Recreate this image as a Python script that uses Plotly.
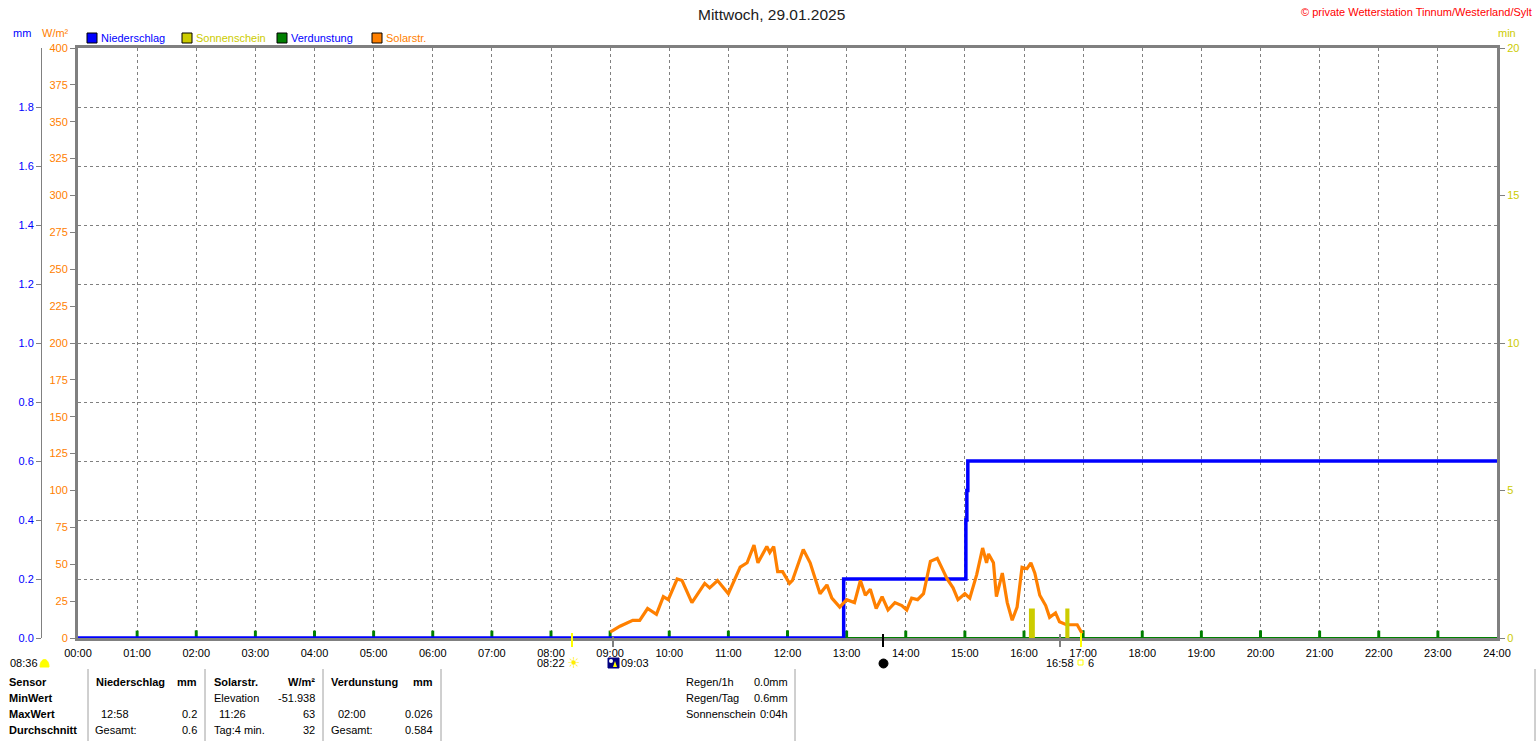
import plotly.graph_objects as go

W, H = 1536, 741
FONT = "Liberation Sans, Arial, sans-serif"

# ---------------- data ----------------
hour_labels = ["%02d:00" % h for h in range(25)]

solar_times = ["09:00", "09:10", "09:23", "09:30", "09:38", "09:47", "09:54", "09:59",
               "10:08", "10:13", "10:23", "10:36", "10:41", "10:49", "11:00", "11:12",
               "11:19", "11:26", "11:30", "11:39", "11:42", "11:46", "11:50", "11:55",
               "12:02", "12:05", "12:16", "12:23", "12:33", "12:40", "12:45", "12:53",
               "13:00", "13:08", "13:14", "13:19", "13:24", "13:30", "13:36", "13:42",
               "13:49", "13:56", "14:01", "14:06", "14:12", "14:18", "14:25", "14:32",
               "14:37", "14:42", "14:48", "14:53", "15:00", "15:05", "15:12", "15:18",
               "15:22", "15:24", "15:29", "15:32", "15:38", "15:43", "15:48", "15:53",
               "15:58", "16:03", "16:07", "16:11", "16:16", "16:22", "16:26", "16:32",
               "16:36", "16:43", "16:54", "16:59"]
solar_values = [4, 8, 12, 12, 20, 16, 28, 26,
                40, 39, 24, 37, 34, 39, 30, 48,
                51, 63, 51, 62, 58, 62, 45, 45,
                37, 39, 60, 51, 30, 36, 27, 21,
                26, 24, 39, 29, 33, 20, 28, 19,
                24, 22, 19, 27, 26, 30, 52, 54,
                47, 40, 34, 26, 30, 27, 43, 61,
                51, 57, 51, 28, 44, 24, 12, 21,
                48, 47, 51, 44, 29, 22, 14, 17,
                11, 9, 9, 3]

rain_times = ["00:00", "12:57", "15:01", "15:02", "15:03", "24:00"]
rain_values = [0.0, 0.2, 0.4, 0.5, 0.6, 0.6]

sun_times = ["16:08", "16:44"]
sun_minutes = [1.0, 1.0]

evap_times = ["%02d:00" % h for h in range(1, 24)]
evap_values = [0.025, 0.026, 0.025, 0.025, 0.025, 0.025, 0.025, 0.025, 0.025, 0.025,
               0.025, 0.026, 0.025, 0.025, 0.025, 0.025, 0.026, 0.025, 0.025, 0.026,
               0.025, 0.025, 0.025]

mm_ticks = [0.0, 0.2, 0.4, 0.6, 0.8, 1.0, 1.2, 1.4, 1.6, 1.8]
wm_ticks = list(range(0, 401, 25))
min_ticks = [0, 5, 10, 15, 20]


def to_h(s):
    h, m = s.split(":")
    return int(h) + int(m) / 60.0


def px(x):
    return x / W


def py(y):
    return 1 - y / H


BLUE = "#0000ff"
ORANGE = "#ff8000"
YEL = "#cccc00"
GREEN = "#008000"
GRAY = "#808080"

fig = go.Figure()

fig.add_trace(go.Bar(x=[to_h(t) for t in evap_times], y=evap_values, yaxis="y",
                     width=0.05, marker=dict(color=GREEN, line=dict(width=0)),
                     showlegend=False, name="Verdunstung"))
fig.add_trace(go.Scatter(x=[to_h(t) for t in rain_times], y=rain_values, yaxis="y",
                         mode="lines", line=dict(color=BLUE, width=3.5, shape="hv"),
                         showlegend=False, name="Niederschlag"))
fig.add_trace(go.Scatter(x=[to_h(t) for t in solar_times], y=solar_values, yaxis="y2",
                         mode="lines", line=dict(color=ORANGE, width=3.2),
                         showlegend=False, name="Solarstr."))
fig.add_trace(go.Bar(x=[to_h(t) for t in sun_times], y=sun_minutes, yaxis="y3",
                     width=[0.1, 0.07], marker=dict(color=YEL, line=dict(width=0)),
                     showlegend=False, name="Sonnenschein"))

ydom = [py(638), py(48)]

fig.update_layout(
    width=W, height=H, autosize=False,
    margin=dict(l=0, r=0, t=0, b=0, pad=0, autoexpand=False),
    paper_bgcolor="white", plot_bgcolor="white",
    barmode="overlay",
    font=dict(family=FONT, size=11, color="black"),
    xaxis=dict(domain=[px(78), px(1497)], range=[0, 24], anchor="y",
               tickvals=list(range(25)), ticktext=hour_labels,
               showgrid=True, gridcolor=GRAY, griddash="3px,3px", gridwidth=1,
               showline=True, mirror=True, linecolor=GRAY, linewidth=3,
               ticks="", zeroline=False, automargin=False, ticklabelstandoff=3,
               tickfont=dict(size=11, color="black")),
    yaxis=dict(domain=ydom, range=[0, 2], anchor="free", position=px(41),
               tickvals=mm_ticks, ticktext=["%.1f" % v for v in mm_ticks],
               tickfont=dict(color=BLUE, size=11),
               ticks="outside", ticklen=5, tickcolor=GRAY,
               showline=True, linecolor=GRAY, linewidth=1,
               showgrid=True, gridcolor=GRAY, griddash="3px,3px", gridwidth=1,
               zeroline=False, automargin=False),
    yaxis2=dict(domain=ydom, range=[0, 400], overlaying="y", anchor="x", side="left",
                tickvals=wm_ticks, tickfont=dict(color=ORANGE, size=11),
                ticks="outside", ticklen=5, tickcolor=GRAY,
                showline=True, linecolor=GRAY, linewidth=3,
                showgrid=False, zeroline=False, automargin=False),
    yaxis3=dict(domain=ydom, range=[0, 20], overlaying="y", anchor="x", side="right",
                tickvals=min_ticks, tickfont=dict(color=YEL, size=11),
                ticks="outside", ticklen=5, tickcolor=GRAY,
                showline=True, linecolor=GRAY, linewidth=3,
                showgrid=False, zeroline=False, automargin=False),
)

ann = []
shapes = []


def text(x, y, s, color="black", size=11, anchor="left", family=FONT):
    ann.append(dict(x=px(x), y=py(y), xref="paper", yref="paper", text=s,
                    showarrow=False, xanchor=anchor, yanchor="middle",
                    font=dict(family=family, size=size, color=color), borderpad=0))


def rect(x0, y0, x1, y1, fill, line="black", lw=1):
    shapes.append(dict(type="rect", xref="paper", yref="paper",
                       x0=px(x0), x1=px(x1), y0=py(y1), y1=py(y0),
                       fillcolor=fill, line=dict(color=line, width=lw)))


def vline(x, y0, y1, color, lw=1):
    shapes.append(dict(type="line", xref="paper", yref="paper",
                       x0=px(x), x1=px(x), y0=py(y0), y1=py(y1),
                       line=dict(color=color, width=lw)))


# Title and header
text(771, 15, "Mittwoch, 29.01.2025", color="#202020", size=15.5, anchor="center")
text(1533, 12, "© private Wetterstation Tinnum/Westerland/Sylt", color="#ff0000", size=11, anchor="right")
text(22, 33, "mm", color=BLUE, anchor="center")
text(41, 33, "W/m²", color=ORANGE)
text(1497, 33, "min", color=YEL)

# legend
leg = [(87, BLUE, "Niederschlag", BLUE), (182, YEL, "Sonnenschein", YEL),
       (277, GREEN, "Verdunstung", BLUE), (372, ORANGE, "Solarstr.", ORANGE)]
for x0, fc, label, tc in leg:
    rect(x0, 33, x0 + 10, 43, fc)
    text(x0 + 13, 38, label, color=tc)

# green evaporation baseline
shapes.append(dict(type="line", xref="x", yref="y", x0=0, x1=24, y0=0, y1=0,
                   line=dict(color=GREEN, width=2), layer="below"))

# markers under axis
vline(572, 633, 647, "#ffff00", 2)
vline(613, 637, 647, GRAY, 2)
vline(883, 634, 647, "black", 2)
vline(1060, 634, 647, GRAY, 2)
vline(1081, 633, 647, "#ffff00", 2)

# bottom icons and times
text(9, 663, "08:36")
shapes.append(dict(type="path", xref="paper", yref="paper",
                   path="M %f %f C %f %f %f %f %f %f Z" % (px(40), py(667), px(40), py(657),
                                                           px(49), py(657), px(49), py(667)),
                   fillcolor="#ffff00", line=dict(color="#ffff00", width=1)))
text(566, 663, "08:22", anchor="right")
text(573, 663, "☀", color="#ffee00", size=15, anchor="center", family="DejaVu Sans")
rect(608, 658, 619, 668, "#000080", line="#000080")
shapes.append(dict(type="circle", xref="paper", yref="paper",
                   x0=px(609), x1=px(613), y0=py(663), y1=py(659),
                   fillcolor="white", line=dict(color="white", width=0)))
shapes.append(dict(type="path", xref="paper", yref="paper",
                   path="M %f %f L %f %f L %f %f Z" % (px(613), py(667), px(615), py(661), px(617), py(667)),
                   fillcolor="#ffff00", line=dict(color="#ffff00", width=0)))
text(620, 663, "09:03")
shapes.append(dict(type="circle", xref="paper", yref="paper",
                   x0=px(879), x1=px(888), y0=py(668), y1=py(659),
                   fillcolor="black", line=dict(color="black", width=1)))
text(1075, 663, "16:58", anchor="right")
rect(1078, 660, 1083, 665, "white", line="#ffff00")
text(1087, 663, "6")

# table
for x in (88, 205, 323, 441, 795, 1535):
    vline(x, 669, 741, "#a0a0a0", 1)

rows = [682, 698, 714, 730]
for y, s in zip(rows, ["Sensor", "MinWert", "MaxWert", "Durchschnitt"]):
    text(8, y, "<b>%s</b>" % s)

text(95, rows[0], "<b>Niederschlag</b>")
text(198, rows[0], "<b>mm</b>", anchor="right")
text(100, rows[2], "12:58")
text(198, rows[2], "0.2", anchor="right")
text(94, rows[3], "Gesamt:")
text(198, rows[3], "0.6", anchor="right")

text(213, rows[0], "<b>Solarstr.</b>")
text(316, rows[0], "<b>W/m²</b>", anchor="right")
text(213, rows[1], "Elevation")
text(316, rows[1], "-51.938", anchor="right")
text(218, rows[2], "11:26")
text(316, rows[2], "63", anchor="right")
text(213, rows[3], "Tag:4 min.")
text(316, rows[3], "32", anchor="right")

text(330, rows[0], "<b>Verdunstung</b>")
text(434, rows[0], "<b>mm</b>", anchor="right")
text(337, rows[2], "02:00")
text(434, rows[2], "0.026", anchor="right")
text(330, rows[3], "Gesamt:")
text(434, rows[3], "0.584", anchor="right")

for y, a, b in zip(rows[:3], ["Regen/1h", "Regen/Tag", "Sonnenschein"], ["0.0mm", "0.6mm", "0:04h"]):
    text(685, y, a)
    text(789, y, b, anchor="right")

fig.update_layout(annotations=ann, shapes=shapes)

fig.write_html("out.html", config={"displayModeBar": False},
               post_script="document.body.style.margin='0';document.body.style.overflow='hidden';")
